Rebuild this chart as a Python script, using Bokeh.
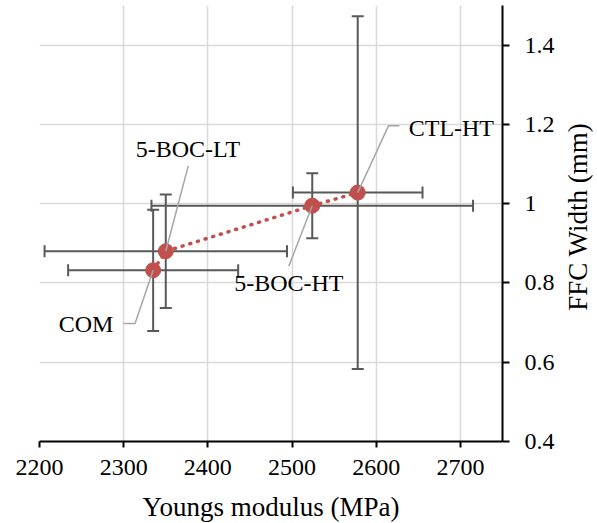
import math
from bokeh.plotting import figure
from bokeh.layouts import row
from bokeh.models import ColumnDataSource, Whisker, TeeHead, Range1d
from bokeh.core.properties import value
from bokeh.embed import file_html
from bokeh.resources import INLINE

# ---- data ----
names = ["COM", "5-BOC-LT", "5-BOC-HT", "CTL-HT"]
youngs = [2335, 2350, 2524, 2578]
youngs_err = [101, 144, 191, 77]
ffc_width = [0.832, 0.880, 0.995, 1.028]
ffc_err = [0.153, 0.143, 0.082, 0.445]

x_ticks = [2200, 2300, 2400, 2500, 2600, 2700]
y_ticks = [0.4, 0.6, 0.8, 1.0, 1.2, 1.4]
y_tick_labels = ["0.4", "0.6", "0.8", "1", "1.2", "1.4"]

# ---- label layout (data-space anchors of texts and leader elbows) ----
label_x = [2287.8, 2376.4, 2496.2, 2638.6]
label_y = [0.6958, 1.1392, 0.7995, 1.1914]
label_align = ["right", "center", "center", "left"]
leader_path_x = [[2299.6, 2313.5], [2376.7], [2496.2], [2627.5, 2614.5]]
leader_path_y = [[0.6976, 0.6976], [1.0953], [0.8425], [1.1964, 1.1964]]

FONT = "Liberation Serif"
RED = "#c0504d"
BAR = "#595959"

src = ColumnDataSource(dict(
    x=youngs, y=ffc_width,
    xl=[a - b for a, b in zip(youngs, youngs_err)],
    xu=[a + b for a, b in zip(youngs, youngs_err)],
    yl=[a - b for a, b in zip(ffc_width, ffc_err)],
    yu=[a + b for a, b in zip(ffc_width, ffc_err)],
))

p = figure(frame_width=463, frame_height=436,
           x_range=(2200, 2750), y_range=(0.4, 1.5),
           y_axis_location="right", output_backend="svg",
           toolbar_location=None,
           min_border_left=39, min_border_top=5,
           min_border_right=62, min_border_bottom=0)
p.outline_line_color = None
p.background_fill_color = "white"
p.border_fill_color = "white"

# grids
p.xgrid.ticker = x_ticks
p.ygrid.ticker = y_ticks
for g in (p.xgrid, p.ygrid):
    g.grid_line_color = "#d9d9d9"
    g.grid_line_width = 1.5

# axes
p.xaxis.ticker = x_ticks
p.yaxis.ticker = y_ticks
p.yaxis.major_label_overrides = {t: l for t, l in zip(y_ticks, y_tick_labels)}
for ax in (p.xaxis, p.yaxis):
    ax.axis_line_color = "black"
    ax.axis_line_width = 2
    ax.major_tick_line_color = "black"
    ax.major_tick_line_width = 2
    ax.major_tick_in = 0
    ax.minor_tick_line_color = None
    ax.major_label_text_font = FONT
    ax.major_label_text_font_size = "24px"
    ax.major_label_text_color = "black"
    ax.axis_label_text_font = FONT
    ax.axis_label_text_font_size = "27px"
    ax.axis_label_text_font_style = "normal"
    ax.axis_label_text_color = "black"
p.xaxis.major_tick_out = 6
p.yaxis.major_tick_out = 7
p.xaxis.major_label_standoff = 12
p.yaxis.major_label_standoff = 15
p.xaxis.axis_label = "Youngs modulus (MPa)"
p.xaxis.axis_label_standoff = 14

# error bars
for dim, base, lo, hi in (("height", "x", "yl", "yu"), ("width", "y", "xl", "xu")):
    w = Whisker(source=src, base=base, lower=lo, upper=hi, dimension=dim,
                line_color=BAR, line_width=2,
                upper_head=TeeHead(size=12, line_color=BAR, line_width=2),
                lower_head=TeeHead(size=12, line_color=BAR, line_width=2))
    p.add_layout(w)

# dotted connecting line and markers
p.line("x", "y", source=src, line_color=RED, line_width=3.5,
       line_dash="1 7", line_cap="round")
p.scatter("x", "y", source=src, size=15, fill_color=RED, line_color=RED)

# leader lines
xs = [lx + [x] for lx, x in zip(leader_path_x, youngs)]
ys = [ly + [y] for ly, y in zip(leader_path_y, ffc_width)]
p.multi_line(xs, ys, line_color="#a6a6a6", line_width=1.5)

# data labels
for i, n in enumerate(names):
    p.text(x=[label_x[i]], y=[label_y[i]], text=[n],
           text_font=value(FONT), text_font_size="24px",
           text_color="black", text_align=label_align[i],
           text_baseline="alphabetic")

# right-hand axis title (reads bottom-to-top) in a narrow side panel
TW, TH = 30, 500
t = figure(width=TW, height=TH, x_range=Range1d(0, TW), y_range=Range1d(TH, 0),
           x_axis_location=None, y_axis_location=None,
           output_backend="svg", toolbar_location=None, min_border=0)
t.grid.visible = False
t.outline_line_color = None
t.background_fill_color = "white"
t.border_fill_color = "white"
t.text(x=[13], y=[256.5], text=["FFC Width (mm)"], angle=math.pi / 2,
       text_font=value(FONT), text_font_size="27px", text_color="black",
       text_align="center", text_baseline="middle")

layout = row(p, t)
open("out.html", "w").write(file_html(layout, INLINE))
